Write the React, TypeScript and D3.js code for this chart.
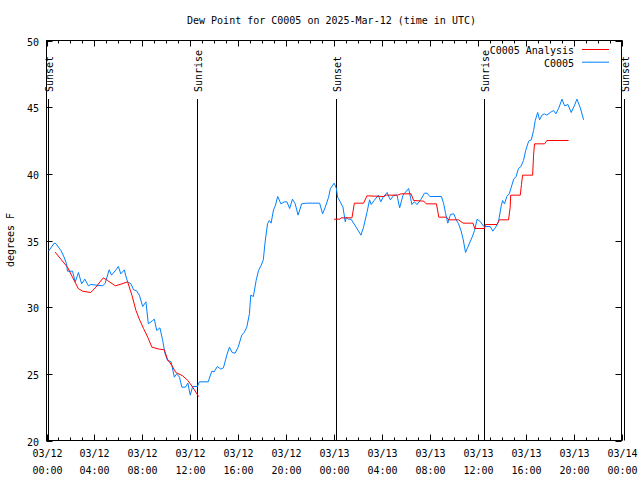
import React from "react";
import * as d3 from "d3";

const TITLE = "Dew Point for C0005 on 2025-Mar-12 (time in UTC)";
const Y_LABEL = "degrees F";
const START = Date.UTC(2025, 2, 12, 0, 0);
const END = Date.UTC(2025, 2, 14, 0, 0);

// hours after 2025-03-12 00:00 UTC
const obsHours = [
  0.17, 0.64, 0.8, 1.2, 1.47, 1.67, 1.75, 2.17, 2.4, 2.67, 2.93, 3.2, 3.5, 3.7, 4.7, 4.9, 5.23, 5.43, 5.8, 6.0,
  6.2, 6.5, 6.6, 6.77, 7.05, 7.27, 7.5, 7.75, 8.03, 8.3, 8.5, 8.86, 9.0, 9.2, 9.47, 9.7, 9.9, 10.1, 10.4, 10.67,
  10.87, 11.1, 11.3, 11.6, 11.8, 12.0, 12.2, 12.6, 12.76, 13.5, 13.8, 14.0, 14.26, 14.55, 14.77, 15.05, 15.27, 15.5, 15.74, 16.0,
  16.3, 16.5, 16.72, 16.94, 17.05, 17.27, 17.5, 17.7, 17.9, 18.1, 18.25, 18.45, 18.6, 18.75, 18.95, 19.1, 19.3, 19.57, 19.85, 20.07,
  20.3, 20.53, 20.76, 21.0, 21.3, 21.68, 22.8, 23.05, 23.27, 23.55, 23.7, 24.02, 24.2, 24.3, 24.52, 24.75, 24.94, 25.02, 25.2, 25.42,
  25.78, 26.25, 26.47, 26.75, 26.97, 27.1, 27.35, 27.7, 27.9, 28.1, 28.43, 28.7, 29.0, 29.26, 29.48, 29.76, 30.04, 30.23, 30.38, 30.5,
  30.7, 30.94, 31.27, 31.55, 31.77, 32.0, 32.97, 33.16, 33.3, 33.5, 33.72, 34.0, 34.2, 34.4, 34.6, 34.78, 34.98, 35.17, 35.53, 35.73,
  35.95, 36.23, 36.45, 36.65, 37.04, 37.26, 37.5, 37.73, 37.96, 38.07, 38.23, 38.43, 38.63, 38.8, 39.0, 39.2, 39.4, 39.6, 39.82, 40.0,
  40.25, 40.47, 40.66, 40.8, 41.0, 41.16, 41.36, 41.56, 41.77, 42.05, 42.33, 42.52, 42.75, 43.03, 43.25, 43.53, 43.8, 44.06, 44.28, 44.56,
  44.84,
];
const obsValues = [
  34.2, 34.8, 34.75, 34.25, 33.75, 33.25, 32.7, 32.7, 31.9, 32.6, 31.75, 32.1, 31.6, 31.7, 31.6, 31.8, 32.8, 32.4, 32.8, 33.05,
  32.5, 32.8, 32.4, 31.9, 31.75, 31.3, 31.25, 30.9, 30.05, 30.4, 28.75, 29.0, 29.1, 28.25, 28.45, 27.5, 26.5, 26.0, 25.9, 24.75,
  25.0, 24.75, 24.0, 24.0, 24.3, 23.4, 24.05, 24.05, 24.4, 24.4, 25.2, 25.15, 25.55, 25.35, 25.45, 26.4, 27.0, 26.6, 26.55, 27.0,
  27.9, 28.1, 28.5, 29.5, 30.9, 30.8, 32.0, 32.75, 33.1, 33.55, 34.9, 36.25, 36.5, 36.3, 37.3, 37.6, 38.3, 37.75, 37.9, 37.9,
  37.4, 38.1, 37.75, 36.9, 37.75, 37.8, 37.8, 37.0, 37.5, 38.25, 38.9, 39.3, 38.9, 38.25, 37.9, 37.5, 36.4, 36.75, 36.6, 36.6,
  36.1, 35.4, 36.0, 37.1, 38.05, 37.7, 38.0, 38.4, 37.9, 38.25, 38.6, 38.05, 38.4, 38.4, 37.45, 38.4, 38.7, 38.9, 38.25, 37.7,
  37.9, 37.7, 38.1, 38.55, 38.55, 38.3, 38.3, 37.75, 37.1, 36.3, 36.95, 37.0, 36.55, 36.25, 35.75, 35.1, 34.1, 34.5, 35.25, 35.75,
  36.6, 36.4, 36.1, 36.05, 36.05, 35.7, 36.0, 36.4, 37.6, 38.0, 37.75, 38.3, 38.5, 39.0, 39.6, 39.8, 40.4, 40.55, 41.0, 41.75,
  42.45, 42.55, 43.25, 44.0, 44.6, 44.05, 44.4, 44.5, 44.4, 44.6, 44.75, 44.5, 44.9, 45.6, 45.1, 45.2, 44.6, 45.1, 45.6, 44.95,
  44.05,
];

// analysis series (NaN marks the gap with no analysis)
const anaHours = [
  0.72, 1.2, 1.75, 2.17, 2.65, 3.0, 3.7, 4.12, 4.74, 5.1, 5.74, 6.3, 6.77, 7.13, 7.47, 7.75, 8.1, 8.45, 8.8, 9.42,
  9.83, 10.1, 10.48, 10.8, 11.37, 11.8, 12.2, 12.7, 18.0,
  24.0, 24.5, 24.6, 25.5, 25.7, 26.47, 26.75, 28.15, 28.37, 29.3, 29.6, 30.43, 30.65, 31.5, 31.7, 32.55, 32.75, 33.4, 33.58, 34.4,
  34.78, 35.6, 35.75, 36.56, 36.65, 37.6, 37.8, 38.57, 38.71, 38.75, 39.55, 39.65, 39.74, 40.58, 40.66, 40.74, 41.58, 41.77, 43.58,
];
const anaValues = [
  34.13, 33.6, 33.0, 32.25, 31.4, 31.2, 31.1, 31.5, 32.2, 32.0, 31.6, 31.75, 31.9, 30.9, 29.75, 29.1, 28.4, 27.75, 27.0, 26.85,
  26.8, 26.1, 25.6, 25.1, 24.85, 24.5, 24.0, 23.3, NaN,
  36.6, 36.6, 36.7, 36.7, 37.8, 37.8, 38.35, 38.3, 38.4, 38.4, 38.5, 38.5, 38.0, 37.95, 37.75, 37.75, 36.75, 36.75, 36.55, 36.55,
  36.3, 36.3, 35.9, 35.9, 36.2, 36.2, 36.55, 36.55, 37.5, 38.4, 38.4, 39.2, 39.9, 39.9, 41.4, 42.25, 42.25, 42.5, 42.5,
];

const sunEventHours = [0.13, 12.58, 24.18, 36.54, 48.2];
const sunEventLabels = ["Sunset", "Sunrise", "Sunset", "Sunrise", "Sunset"];

const yTicks = [20, 25, 30, 35, 40, 45, 50];
const seriesNames = ["C0005 Analysis", "C0005"];
const seriesColors = ["#ff0000", "#0080ff"];

const W = 640, H = 480;
const L = 46.5, R = 621.5, T = 40.5, B = 440.5;
const FONT = "'DejaVu Sans Mono', 'Liberation Mono', monospace";

const toDate = (h: number) => new Date(START + h * 3600e3);

export default function App() {
  const x = d3.scaleUtc().domain([new Date(START), new Date(END)]).range([L, R]);
  const y = d3.scaleLinear().domain([20, 50]).range([B, T]);

  const line = d3
    .line<[number, number]>()
    .defined((d) => !isNaN(d[1]))
    .x((d) => x(toDate(d[0])))
    .y((d) => y(d[1]));

  const obs = obsHours.map((h, i) => [h, obsValues[i]] as [number, number]);
  const ana = anaHours.map((h, i) => [h, anaValues[i]] as [number, number]);

  const majorTicks = x.ticks(d3.utcHour.every(4)!);
  const minorTicks = x.ticks(d3.utcHour.every(1)!);
  const fmtDate = d3.utcFormat("%m/%d");
  const fmtTime = d3.utcFormat("%H:%M");

  return (
    <svg width={W} height={H} style={{ position: "absolute", left: 0, top: 0, background: "#fff" }} fontFamily={FONT} fontSize={10}>
      <rect x={0} y={0} width={W} height={H} fill="#fff" />
      {/* minor x ticks */}
      {minorTicks.map((t, i) => {
        const xx = Math.round(x(t)) + 0.5;
        return (
          <g key={"mt" + i} stroke="#000" strokeWidth={1}>
            <line x1={xx} x2={xx} y1={B} y2={B - 3} />
            <line x1={xx} x2={xx} y1={T} y2={T + 3} />
          </g>
        );
      })}
      {majorTicks.map((t, i) => {
        const xx = Math.round(x(t)) + 0.5;
        return (
          <g key={"Mt" + i}>
            <line x1={xx} x2={xx} y1={B} y2={B - 6} stroke="#000" />
            <line x1={xx} x2={xx} y1={T} y2={T + 6} stroke="#000" />
            <text x={xx} y={457} textAnchor="middle" fill="#000">{fmtDate(t)}</text>
            <text x={xx} y={474} textAnchor="middle" fill="#000">{fmtTime(t)}</text>
          </g>
        );
      })}
      {yTicks.map((v) => {
        const yy = Math.round(y(v)) + 0.5;
        return (
          <g key={"y" + v}>
            <line x1={L} x2={L + 6} y1={yy} y2={yy} stroke="#000" />
            <line x1={R} x2={R - 6} y1={yy} y2={yy} stroke="#000" />
            <text x={39} y={yy + 4} textAnchor="end" fill="#000">{v}</text>
          </g>
        );
      })}
      <rect x={L} y={T} width={R - L} height={B - T} fill="none" stroke="#000" strokeWidth={1} />

      {/* sunrise / sunset markers */}
      {sunEventHours.map((h, i) => {
        const xx = Math.round(x(toDate(h))) + 0.5;
        return (
          <g key={"s" + i}>
            <line x1={xx} x2={xx} y1={99} y2={B} stroke="#000" strokeWidth={1} />
            <text transform={`translate(${xx + 4.5},92) rotate(-90)`} textAnchor="start" fill="#000">
              {sunEventLabels[i]}
            </text>
          </g>
        );
      })}

      <path d={line(obs) || ""} fill="none" stroke={seriesColors[1]} strokeWidth={1} />
      <path d={line(ana) || ""} fill="none" stroke={seriesColors[0]} strokeWidth={1} />

      {/* legend */}
      {seriesNames.map((n, i) => (
        <g key={"lg" + i}>
          <text x={574} y={54 + i * 12.7} textAnchor="end" fill="#000">{n}</text>
          <line x1={582} x2={609} y1={49.5 + i * 12.7} y2={49.5 + i * 12.7} stroke={seriesColors[i]} strokeWidth={1} />
        </g>
      ))}

      <text x={331.5} y={24} textAnchor="middle" fill="#000">{TITLE}</text>
      <text transform={`translate(14,240) rotate(-90)`} textAnchor="middle" fill="#000">{Y_LABEL}</text>
    </svg>
  );
}
